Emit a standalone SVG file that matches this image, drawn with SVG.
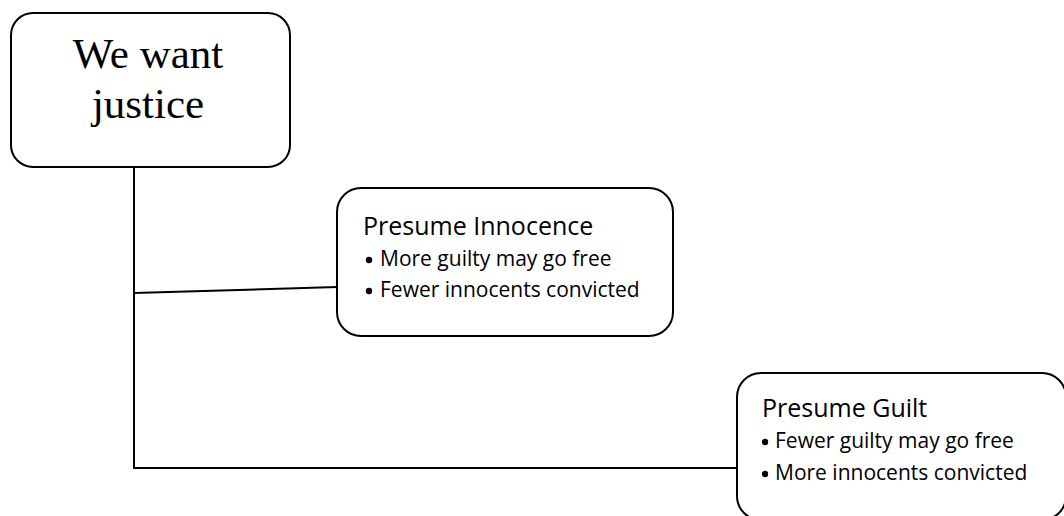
<svg xmlns="http://www.w3.org/2000/svg" width="1064" height="516" viewBox="0 0 1064 516">
<style>
.box{fill:#fff;stroke:#000;stroke-width:2}
.conn{fill:none;stroke:#000;stroke-width:2}
.title{font-family:"Liberation Serif",serif;font-size:43px;fill:#000}
.head{font-family:"Open Sans",sans-serif;font-size:25px;fill:#000}
.item{font-family:"Open Sans",sans-serif;font-size:21px;fill:#000}
</style>
<rect width="1064" height="516" fill="#fff"/>
<g id="connectors">
<path class="conn" d="M134,167 V468 H737"/>
<path class="conn" d="M134,293 L337,287"/>
</g>
<g id="root">
<rect class="box" x="11" y="13" width="279" height="154" rx="22"/>
<text class="title" x="148" y="68" text-anchor="middle">We want</text>
<text class="title" x="148" y="118" text-anchor="middle">justice</text>
</g>
<g id="innocence">
<rect class="box" x="337" y="188" width="336" height="148" rx="24"/>
<text class="head" x="363" y="235">Presume Innocence</text>
<circle cx="369" cy="260" r="3.2"/>
<text class="item" x="380" y="266">More guilty may go free</text>
<circle cx="369" cy="291" r="3.2"/>
<text class="item" x="380" y="297">Fewer innocents convicted</text>
</g>
<g id="guilt">
<rect class="box" x="737" y="373" width="329" height="147" rx="24"/>
<text class="head" x="762" y="417">Presume Guilt</text>
<circle cx="765" cy="442" r="3.2"/>
<text class="item" x="775" y="448">Fewer guilty may go free</text>
<circle cx="765" cy="474" r="3.2"/>
<text class="item" x="775" y="480">More innocents convicted</text>
</g>
</svg>
